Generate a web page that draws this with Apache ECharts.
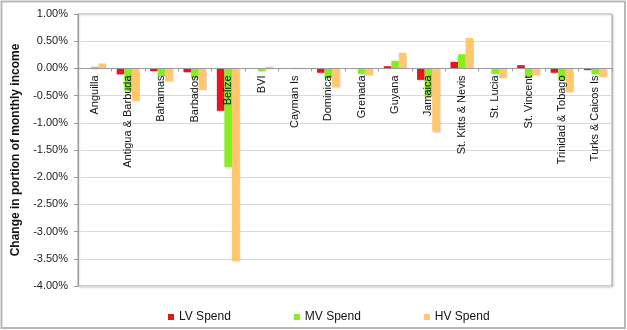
<!DOCTYPE html>
<html>
<head>
<meta charset="utf-8">
<script src="https://cdn.jsdelivr.net/npm/echarts@6/dist/echarts.min.js"></script>
<style>
  html, body { margin: 0; padding: 0; background: #fff; }
  #chart { width: 627px; height: 330px; }
</style>
</head>
<body>
<div id="chart"></div>
<script>
// Countries along the category axis
const countries = ['Anguilla', 'Antigua & Barbuda', 'Bahamas', 'Barbados', 'Belize', 'BVI',
  'Cayman Is', 'Dominica', 'Grenada', 'Guyana', 'Jamaica', 'St. Kitts & Nevis',
  'St. Lucia', 'St. Vincent', 'Trinidad & Tobago', 'Turks & Caicos Is'];

// Change in portion of monthly income, in percent
const lvSpend = [0.00, -0.11, -0.05, -0.07, -0.78, 0.00, 0.00, -0.08, -0.01, 0.04, -0.21, 0.12, 0.00, 0.06, -0.08, -0.03];
const mvSpend = [0.03, -0.42, -0.14, -0.18, -1.81, -0.05, 0.01, -0.18, -0.10, 0.14, -0.52, 0.26, -0.10, -0.15, -0.22, -0.11];
const hvSpend = [0.09, -0.60, -0.24, -0.40, -3.54, 0.03, 0.01, -0.35, -0.13, 0.29, -1.16, 0.56, -0.18, -0.13, -0.44, -0.16];

const seriesNames = ['LV Spend', 'MV Spend', 'HV Spend'];
const seriesData = [lvSpend, mvSpend, hvSpend];
const seriesColors = ['#e8141c', '#84ee1e', '#ffc76e'];

const FONT = '"Liberation Sans", Arial, Helvetica, sans-serif';

// Value range of the y axis
const Y_MIN = -4, Y_MAX = 1;
const GRID_TOP = 14, GRID_BOTTOM = 44, CHART_H = 330;
const gridH = CHART_H - GRID_TOP - GRID_BOTTOM;
// Move the category axis up from the plot bottom to the zero line
const zeroOffset = -gridH * (0 - Y_MIN) / (Y_MAX - Y_MIN);

const chart = echarts.init(document.getElementById('chart'), null, { renderer: 'canvas' });

chart.setOption({
  animation: false,
  textStyle: { fontFamily: FONT },
  graphic: [{
    type: 'rect',
    shape: { x: 1.5, y: 1.5, width: 623.5, height: 326.5 },
    style: { fill: 'none', stroke: '#b8b8b8', lineWidth: 2 },
    silent: true
  }],
  grid: {
    left: 78, right: 15, top: GRID_TOP, bottom: GRID_BOTTOM,
    containLabel: false,
    outerBoundsMode: 'none',
    show: true,
    borderColor: '#a6a6a6',
    borderWidth: 1,
    shadowColor: 'rgba(0,0,0,0.18)',
    shadowBlur: 2,
    shadowOffsetX: 1,
    shadowOffsetY: 1,
    backgroundColor: '#fff'
  },
  legend: {
    data: seriesNames,
    left: 163,
    top: 306,
    itemWidth: 6,
    itemHeight: 6,
    itemGap: 63,
    icon: 'rect',
    textStyle: { fontFamily: FONT, fontSize: 12, color: '#111' }
  },
  xAxis: {
    type: 'category',
    data: countries,
    position: 'bottom',
    offset: zeroOffset,
    z: 5,
    axisLine: { onZero: false, lineStyle: { color: '#9a9a9a', width: 1 } },
    axisTick: { show: true, length: 3, lineStyle: { color: '#9a9a9a' } },
    axisLabel: {
      rotate: 90,
      interval: 0,
      margin: 7,
      fontSize: 11,
      color: '#111',
      fontFamily: FONT
    }
  },
  yAxis: {
    type: 'value',
    min: Y_MIN,
    max: Y_MAX,
    interval: 0.5,
    name: 'Change in portion of monthly income',
    nameLocation: 'middle',
    nameGap: 56,
    nameTextStyle: { fontFamily: FONT, fontSize: 12, fontWeight: 'bold', color: '#111' },
    axisLine: { show: true, lineStyle: { color: '#9a9a9a', width: 1 } },
    axisTick: { show: true, length: 4, lineStyle: { color: '#9a9a9a' } },
    axisLabel: {
      margin: 10,
      fontSize: 11,
      color: '#222',
      fontFamily: FONT,
      formatter: v => v.toFixed(2) + '%'
    },
    splitLine: { show: true, lineStyle: { color: '#d9d9d9', width: 1 } }
  },
  series: seriesNames.map((name, i) => ({
    name: name,
    type: 'bar',
    data: seriesData[i],
    barGap: '0%',
    barCategoryGap: '32%',
    itemStyle: {
      color: seriesColors[i],
      shadowColor: 'rgba(0,0,0,0.15)',
      shadowBlur: 1.5,
      shadowOffsetX: 1,
      shadowOffsetY: 1
    }
  }))
});
</script>
</body>
</html>
